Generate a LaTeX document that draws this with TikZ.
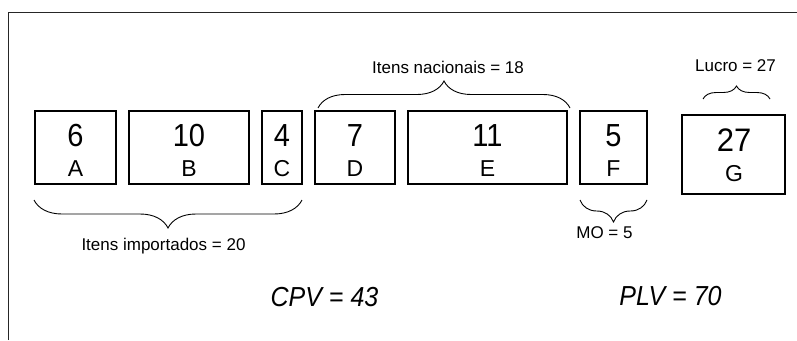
\documentclass[tikz,border=0pt]{standalone}
\usepackage{graphicx}
\usepackage{fontspec}
\setmainfont{Liberation Sans}
\usetikzlibrary{decorations.pathreplacing}
\newcommand\tallx[1]{\scalebox{1}[1.1]{#1}}
\begin{document}
\begin{tikzpicture}[x=1pt,y=-1pt,
  box/.style={draw,line width=1.1pt,rectangle,inner sep=0pt},
  num/.style={anchor=base,inner sep=0pt,font=\fontsize{29}{34}\selectfont},
  let/.style={anchor=base,inner sep=0pt,font=\fontsize{23}{27}\selectfont},
  lab/.style={anchor=base,inner sep=0pt,font=\fontsize{17}{20}\selectfont},
  big/.style={anchor=base,inner sep=0pt,font=\fontsize{25}{30}\selectfont\itshape},
  brc/.style={decorate,line width=0.9pt,decoration={brace,amplitude=#1}}]
\useasboundingbox (0,0) rectangle (797,340);
\draw[line width=0.9pt,black!85] (8,340) -- (8,12) -- (797,12);
% boxes
\node[box,minimum width=81pt,minimum height=73pt] (A) at (75.5,147.5) {};
\node[box,minimum width=120pt,minimum height=73pt] (B) at (189,147.5) {};
\node[box,minimum width=40pt,minimum height=73pt] (C) at (282,147.5) {};
\node[box,minimum width=80pt,minimum height=73pt] (D) at (355,147.5) {};
\node[box,minimum width=159pt,minimum height=73pt] (E) at (487.5,147.5) {};
\node[box,minimum width=67pt,minimum height=73pt] (F) at (613.5,147.5) {};
\node[box,minimum width=103pt,minimum height=79pt] (G) at (733.5,154.5) {};
% numbers and letters
\node[num] (nA) at (75.5,146) {\tallx{6}};
\node[let] (lA) at (75.5,176) {A};
\node[num] (nB) at (189,146) {\tallx{10}};
\node[let] (lB) at (189,176) {B};
\node[num] (nC) at (282,146) {\tallx{4}};
\node[let] (lC) at (282,176) {C};
\node[num] (nD) at (355,146) {\tallx{7}};
\node[let] (lD) at (355,176) {D};
\node[num] (nE) at (487.5,146) {\tallx{11}};
\node[let] (lE) at (487.5,176) {E};
\node[num] (nF) at (613.5,146) {\tallx{5}};
\node[let] (lF) at (613.5,176) {F};
\node[num,font=\fontsize{31}{36}\selectfont] (nG) at (734,151.7) {\scalebox{1}[1.05]{27}};
\node[let] (lG) at (734,181.7) {G};
% brace end points
\coordinate (i1) at (302,200);
\coordinate (i2) at (34,200);
\coordinate (n1) at (318,108);
\coordinate (n2) at (570,108);
\coordinate (l1) at (703,99);
\coordinate (l2) at (770,99);
\coordinate (m1) at (647,200);
\coordinate (m2) at (580,200);
\draw[brc=28pt] (i1) -- (i2);
\draw[brc=27pt] (n1) -- (n2);
\draw[brc=13pt] (l1) -- (l2);
\draw[brc=22pt] (m1) -- (m2);
% labels
\node[lab] (ti) at (163.5,250.5) {Itens importados = 20};
\node[lab] (tn) at (448,73.3) {Itens nacionais = 18};
\node[lab] (tl) at (735.5,71.7) {Lucro = 27};
\node[lab] (tm) at (604.5,238) {MO = 5};
\node[big] (cpv) at (324.5,306.5) {\tallx{CPV = 43}};
\node[big] (plv) at (670.5,305.5) {\tallx{PLV = 70}};
\end{tikzpicture}
\end{document}
